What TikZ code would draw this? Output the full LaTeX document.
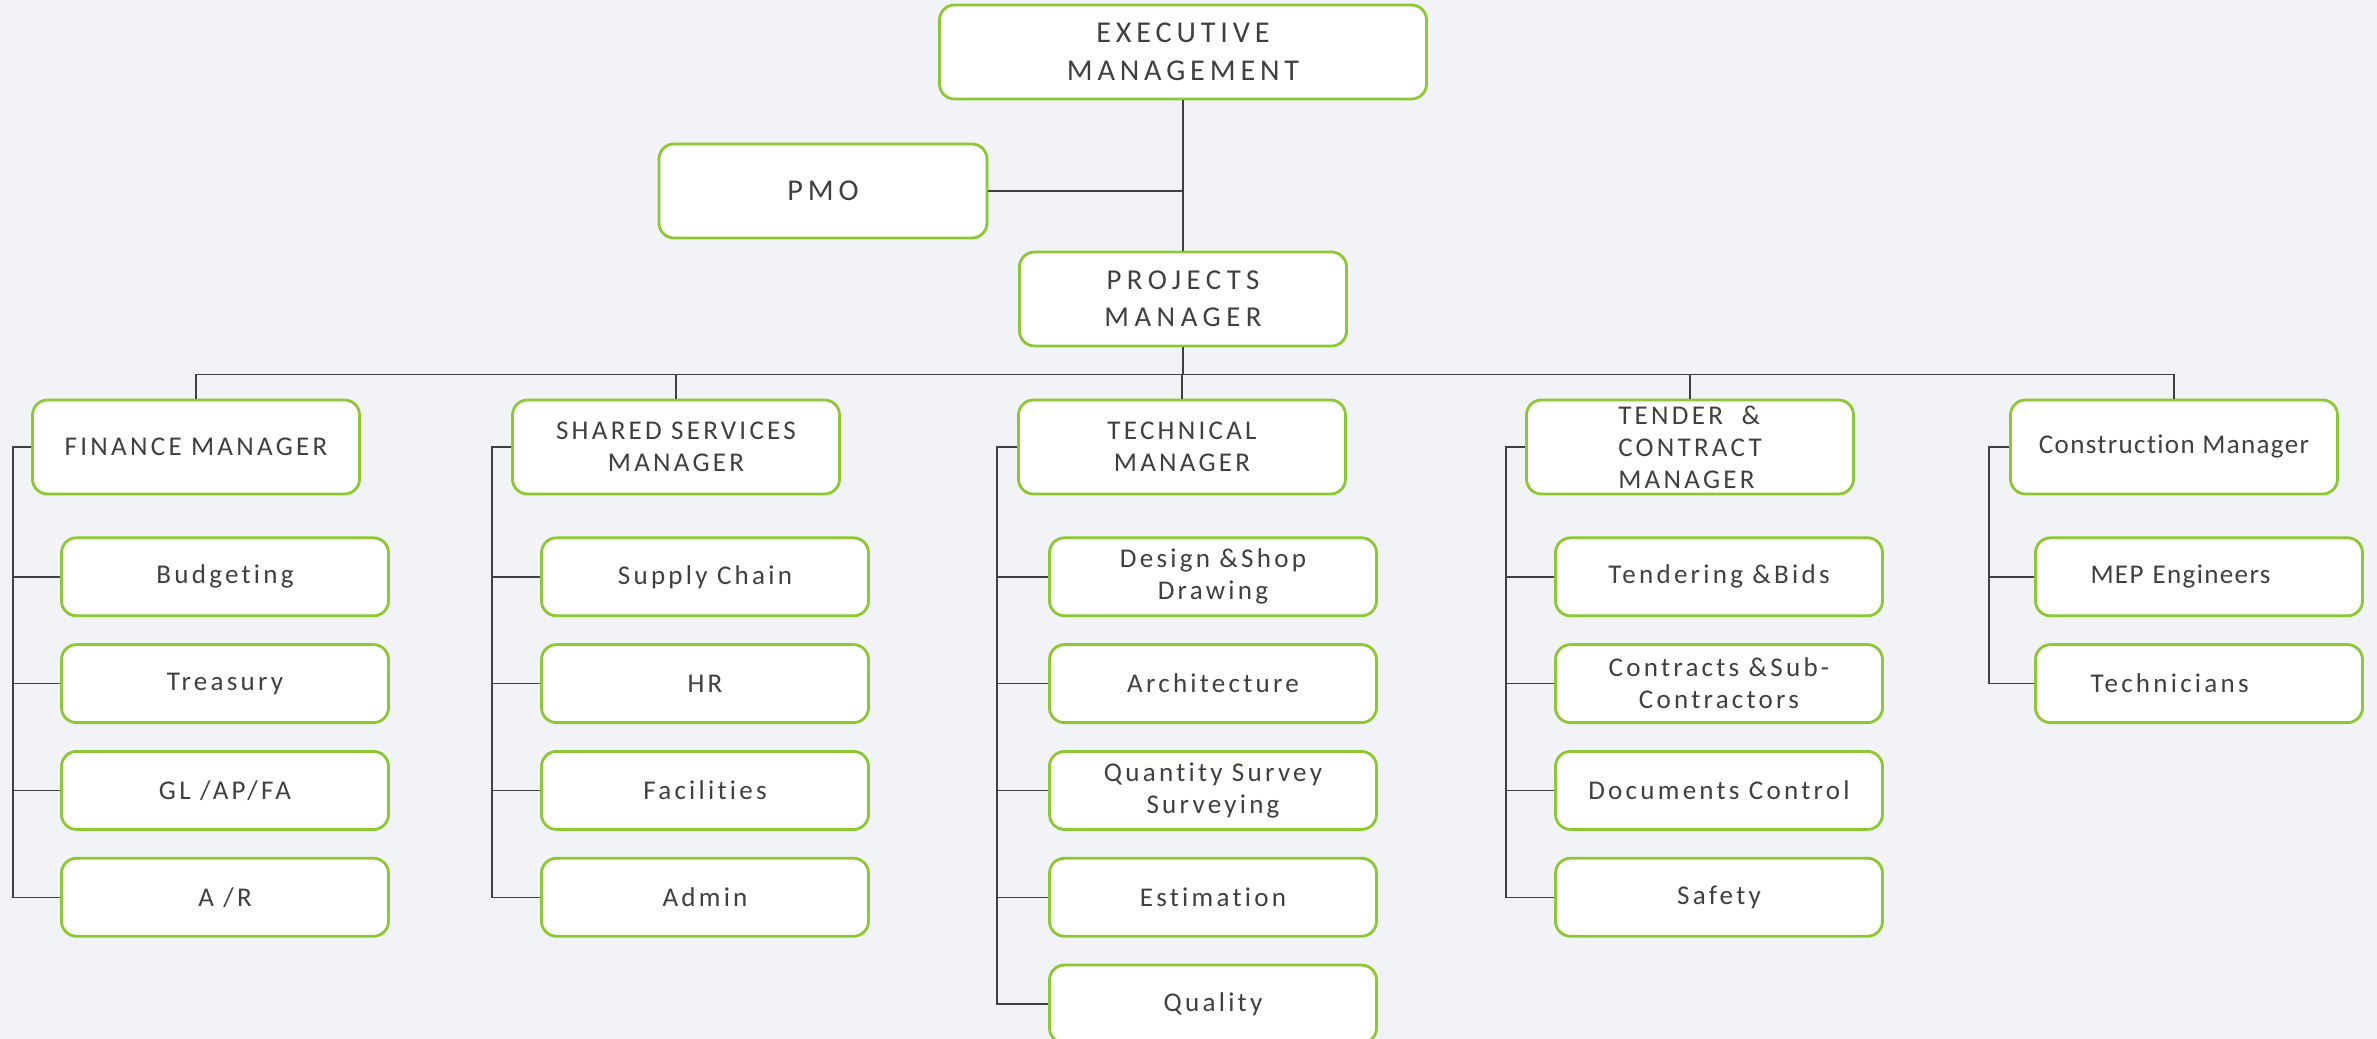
\documentclass[tikz,border=0pt]{standalone}
\usepackage{fontspec}
\usepackage{xcolor}
\usepackage{tikz}
\usetikzlibrary{positioning}
\newfontfamily\boxfont{Carlito}[LetterSpace=12,Ligatures=NoCommon]
\newfontfamily\headfont{Carlito}[LetterSpace=16,Ligatures=NoCommon]
\newfontfamily\projfont{Carlito}[LetterSpace=19,Ligatures=NoCommon]
\newfontfamily\plainfont{Carlito}[LetterSpace=5,Ligatures=NoCommon]
\definecolor{boxgreen}{RGB}{140,200,50}
\definecolor{inkgray}{RGB}{64,64,64}
\definecolor{bggray}{RGB}{241,243,246}

\begin{document}
\begin{tikzpicture}[
  node distance=2.6mm,
  orgbox/.style={rectangle, draw=boxgreen, line width=0.8pt, fill=white, rounded corners=1.5mm,
    minimum width=3.27cm, minimum height=0.94cm, inner sep=0pt, align=center, text=inkgray,
    font=\boxfont\fontsize{7.7}{9.1}\selectfont},
  topbox/.style={orgbox, font=\headfont\fontsize{8.6}{10.8}\selectfont},
  mgrbox/.style={orgbox},
  itembox/.style={orgbox, minimum height=0.78cm},
  link/.style={draw=inkgray, line width=0.4pt},
]
  \useasboundingbox (0,0) rectangle (23.77,-10.39);
  \fill[bggray] (0,0) rectangle (23.77,-10.39);

  % top of the chart
  \node[topbox, minimum width=4.87cm] (exec) at (11.83,-0.52) {EXECUTIVE\\MANAGEMENT};
  \node[topbox, minimum width=3.28cm] (pmo) at (8.23,-1.91) {PMO};
  \node[topbox, font=\projfont\fontsize{8.2}{10.4}\selectfont] (pm) at (11.83,-2.99) {PROJECTS\\MANAGER};
  \coordinate[below=2.7mm of pm] (bus);

  % managers
  \node[mgrbox] (fin) at (1.96,-4.47) {FINANCE MANAGER};
  \node[mgrbox] (shs) at (6.76,-4.47) {SHARED SERVICES\\MANAGER};
  \node[mgrbox] (tec) at (11.82,-4.47) {TECHNICAL\\MANAGER};
  \node[mgrbox, align=left] (ten) at (16.90,-4.47) {TENDER \ \&\\CONTRACT\\MANAGER};
  \node[mgrbox, font=\plainfont\fontsize{7.7}{9.1}\selectfont] (con) at (21.74,-4.47) {Construction Manager};

  % finance
  \node[itembox, below=4.1mm of fin, xshift=2.9mm] (fin1) {Budgeting};
  \node[itembox, below=of fin1] (fin2) {Treasury};
  \node[itembox, below=of fin2] (fin3) {GL /AP/FA};
  \node[itembox, below=of fin3] (fin4) {A /R};

  % shared services
  \node[itembox, below=4.1mm of shs, xshift=2.9mm] (shs1) {Supply Chain};
  \node[itembox, below=of shs1] (shs2) {HR};
  \node[itembox, below=of shs2] (shs3) {Facilities};
  \node[itembox, below=of shs3] (shs4) {Admin};

  % technical
  \node[itembox, below=4.1mm of tec, xshift=3.1mm] (tec1) {Design \&Shop\\Drawing};
  \node[itembox, below=of tec1] (tec2) {Architecture};
  \node[itembox, below=of tec2] (tec3) {Quantity Survey\\Surveying};
  \node[itembox, below=of tec3] (tec4) {Estimation};
  \node[itembox, below=of tec4] (tec5) {Quality};

  % tender and contract
  \node[itembox, below=4.1mm of ten, xshift=2.9mm] (ten1) {Tendering \&Bids};
  \node[itembox, below=of ten1] (ten2) {Contracts \&Sub-\\Contractors};
  \node[itembox, below=of ten2] (ten3) {Documents Control};
  \node[itembox, below=of ten3] (ten4) {Safety};

  % construction
  \node[itembox, below=4.1mm of con, xshift=2.5mm, text width=2.17cm, align=left,
    font=\plainfont\fontsize{7.7}{9.1}\selectfont] (con1) {MEP Engineers};
  \node[itembox, below=of con1, text width=2.17cm, align=left] (con2) {Technicians};

  % links
  \draw[link] (exec) -- (pm);
  \draw[link] (pmo.east) -- (pmo.east -| exec.south);
  \draw[link] (pm) -- (bus);
  \draw[link] (fin.north) |- (bus) -| (con.north);
  \draw[link] (shs.north) -- (shs.north |- bus);
  \draw[link] (tec.north) -- (tec.north |- bus);
  \draw[link] (ten.north) -- (ten.north |- bus);

  \draw[link] (fin.west) -- ++(-0.18,0) |- (fin1.west);
  \draw[link] (fin.west) -- ++(-0.18,0) |- (fin2.west);
  \draw[link] (fin.west) -- ++(-0.18,0) |- (fin3.west);
  \draw[link] (fin.west) -- ++(-0.18,0) |- (fin4.west);
  \draw[link] (shs.west) -- ++(-0.19,0) |- (shs1.west);
  \draw[link] (shs.west) -- ++(-0.19,0) |- (shs2.west);
  \draw[link] (shs.west) -- ++(-0.19,0) |- (shs3.west);
  \draw[link] (shs.west) -- ++(-0.19,0) |- (shs4.west);
  \draw[link] (tec.west) -- ++(-0.20,0) |- (tec1.west);
  \draw[link] (tec.west) -- ++(-0.20,0) |- (tec2.west);
  \draw[link] (tec.west) -- ++(-0.20,0) |- (tec3.west);
  \draw[link] (tec.west) -- ++(-0.20,0) |- (tec4.west);
  \draw[link] (tec.west) -- ++(-0.20,0) |- (tec5.west);
  \draw[link] (ten.west) -- ++(-0.19,0) |- (ten1.west);
  \draw[link] (ten.west) -- ++(-0.19,0) |- (ten2.west);
  \draw[link] (ten.west) -- ++(-0.19,0) |- (ten3.west);
  \draw[link] (ten.west) -- ++(-0.19,0) |- (ten4.west);
  \draw[link] (con.west) -- ++(-0.20,0) |- (con1.west);
  \draw[link] (con.west) -- ++(-0.20,0) |- (con2.west);
\end{tikzpicture}
\end{document}
